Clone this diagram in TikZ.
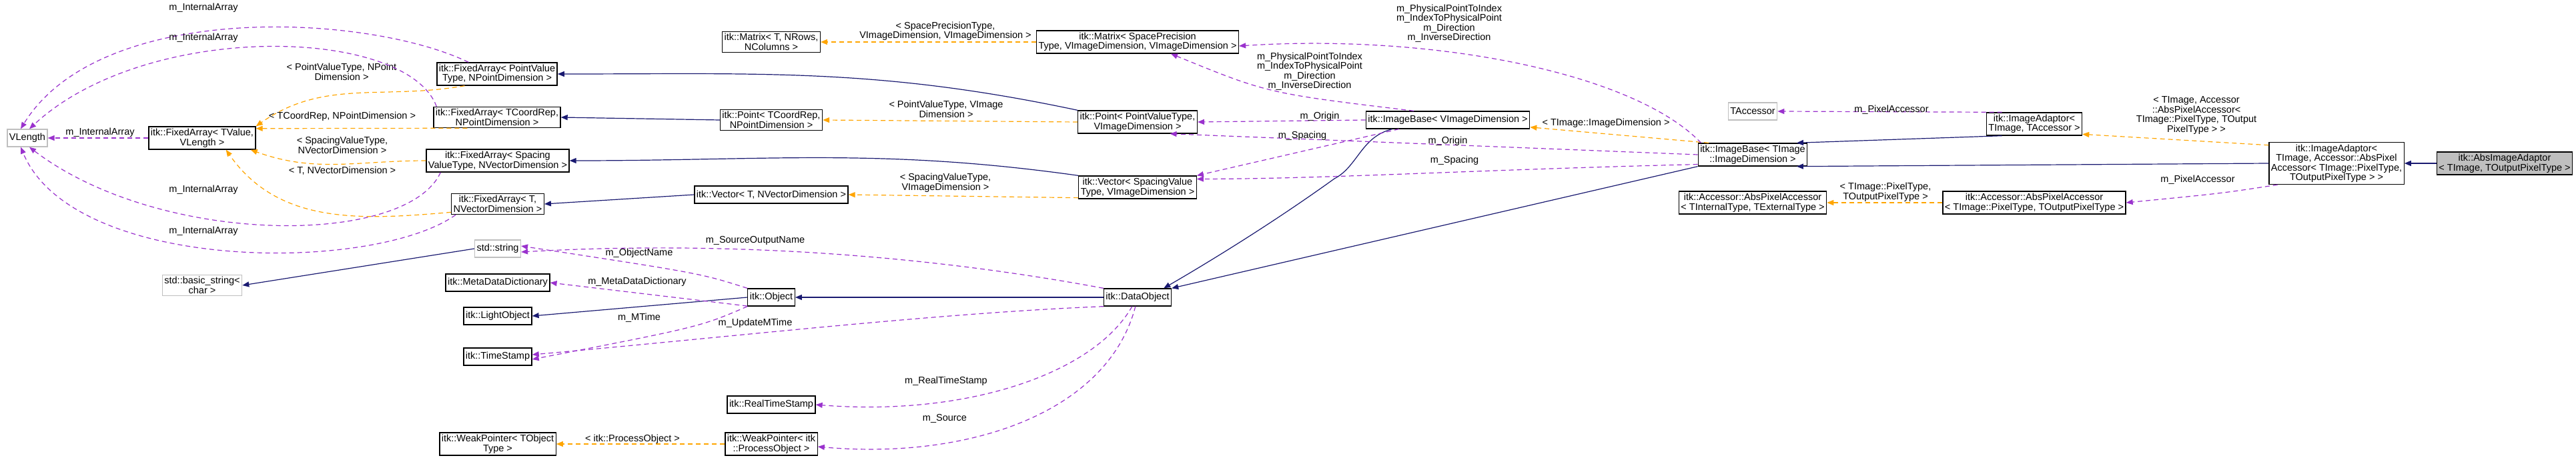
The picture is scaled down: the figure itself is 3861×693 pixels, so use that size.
\documentclass[tikz,border=0pt]{standalone}
\usepackage{fontspec}
\setmainfont{Liberation Sans}
\usetikzlibrary{arrows.meta}
\definecolor{navyc}{HTML}{191970}
\definecolor{purc}{HTML}{9A32CD}
\definecolor{orac}{HTML}{FFA500}
\definecolor{grayc}{HTML}{BFBFBF}
\tikzset{
  cls/.style={draw=black,line width=1.3pt,fill=white,align=center,inner sep=3pt,minimum height=26pt,font=\fontsize{14.5}{14.5}\selectfont},
  ext/.style={cls,draw=grayc},
  lbl/.style={align=center,inner sep=0pt,font=\fontsize{14.5}{14.5}\selectfont},
  tip/.style={-{Triangle[length=10pt,width=8pt]}},
  inh/.style={tip,draw=navyc,line width=1.2pt},
  tpl/.style={tip,draw=orac,line width=1.2pt,dash pattern=on 7pt off 5pt},
  use/.style={tip,draw=purc,line width=1.2pt,dash pattern=on 7pt off 5pt}
}
\begin{document}
\begin{tikzpicture}[x=1pt,y=-1pt]
\useasboundingbox (0,0) rectangle (3861,693);
% classes
\node [ext,name=vlen] at (41,207){VLength};
\node [cls,name=faTV] at (303,207){itk::FixedArray< TValue,\\VLength >};
\node [cls,name=faPV] at (745,111){itk::FixedArray< PointValue\\Type, NPointDimension >};
\node [cls,name=faTC] at (745,176){itk::FixedArray< TCoordRep,\\NPointDimension >};
\node [cls,name=faSV] at (746,241){itk::FixedArray< Spacing\\ValueType, NVectorDimension >};
\node [cls,name=faT] at (746,306){itk::FixedArray< T,\\NVectorDimension >};
\node [ext,name=strS] at (746,373){std::string};
\node [ext,name=bstr] at (303,428){std::basic\_string<\\char >};
\node [cls,name=meta] at (746,424){itk::MetaDataDictionary};
\node [cls,name=light] at (746,474){itk::LightObject};
\node [cls,name=tstamp] at (746,535){itk::TimeStamp};
\node [cls,name=wpT] at (746,666){itk::WeakPointer< TObject\\Type >};
\node [cls,name=matT] at (1156,63){itk::Matrix< T, NRows,\\NColumns >};
\node [cls,name=pointTC] at (1156,180){itk::Point< TCoordRep,\\NPointDimension >};
\node [cls,name=vecT] at (1156,292){itk::Vector< T, NVectorDimension >};
\node [cls,name=obj] at (1156,446){itk::Object};
\node [cls,name=realTS] at (1156,607){itk::RealTimeStamp};
\node [cls,name=wpPO] at (1156,666){itk::WeakPointer< itk\\::ProcessObject >};
\node [cls,name=matSP] at (1705,63){itk::Matrix< SpacePrecision\\Type, VImageDimension, VImageDimension >};
\node [cls,name=pointPV] at (1705,183){itk::Point< PointValueType,\\VImageDimension >};
\node [cls,name=vecSV] at (1705,281){itk::Vector< SpacingValue\\Type, VImageDimension >};
\node [cls,name=dobj] at (1705,446){itk::DataObject};
\node [cls,name=ibV] at (2170,180){itk::ImageBase< VImageDimension >};
\node [cls,name=ibT] at (2627,232){itk::ImageBase< TImage\\::ImageDimension >};
\node [ext,name=tacc] at (2627,167){TAccessor};
\node [cls,name=apa1] at (2627,304){itk::Accessor::AbsPixelAccessor\\< TInternalType, TExternalType >};
\node [cls,name=iaTA] at (3049,186){itk::ImageAdaptor<\\TImage, TAccessor >};
\node [cls,name=apa2] at (3049,304){itk::Accessor::AbsPixelAccessor\\< TImage::PixelType, TOutputPixelType >};
\node [cls,name=iaBig] at (3502,245){itk::ImageAdaptor<\\TImage, Accessor::AbsPixel\\Accessor< TImage::PixelType,\\TOutputPixelType > >};
\node [cls,fill=grayc,name=absIA] at (3754,245){itk::AbsImageAdaptor\\< TImage, TOutputPixelType >};
% inheritance
\draw[inh] (pointPV.north west) to[out=168,in=0] (faPV.east);
\draw[inh] (pointTC.west) -- (faTC.east);
\draw[inh] (vecSV.north west) to[out=172,in=0] (faSV.east);
\draw[inh] (vecT.west) -- (faT.east);
\draw[inh] (strS.west) -- (bstr.east);
\draw[inh] (obj.west) -- (light.east);
\draw[inh] (dobj.west) -- (obj.east);
\draw[inh] ([xshift=40pt]ibV.south west) .. controls (2040,205) and (2035,250) .. (2000,268) .. controls (1900,340) and (1800,400) .. ([xshift=-12pt]dobj.north east);
\draw[inh] (ibT.south west) -- (dobj.north east);
\draw[inh] (iaTA.200) -- (ibT.15);
\draw[inh] (iaBig.west) -- (ibT.-15);
\draw[inh] (absIA.west) -- (iaBig.east);
% template instances
\draw[tpl] (faPV.200) to[out=190,in=35] (faTV.north east)
  node[lbl] at (512,108){< PointValueType, NPoint\\Dimension >};
\draw[tpl] (faTC.200) -- (faTV.10)
  node[lbl] at (513,175){< TCoordRep, NPointDimension >};
\draw[tpl] (faSV.west) to[out=180,in=-20] ([xshift=-8pt]faTV.south east)
  node[lbl] at (513,218){< SpacingValueType,\\NVectorDimension >};
\draw[tpl] (faT.190) to[out=185,in=-55] ([xshift=-45pt]faTV.south east)
  node[lbl] at (513,256){< T, NVectorDimension >};
\draw[tpl] (matSP.west) -- (matT.east)
  node[lbl] at (1417,47){< SpacePrecisionType,\\VImageDimension, VImageDimension >};
\draw[tpl] (pointPV.west) -- (pointTC.east)
  node[lbl] at (1418,164){< PointValueType, VImage\\Dimension >};
\draw[tpl] (vecSV.190) -- (vecT.east)
  node[lbl] at (1417,274){< SpacingValueType,\\VImageDimension >};
\draw[tpl] (ibT.165) -- (ibV.-5)
  node[lbl] at (2407,185){< TImage::ImageDimension >};
\draw[tpl] (apa2.west) -- (apa1.east)
  node[lbl] at (2826,288){< TImage::PixelType,\\TOutputPixelType >};
\draw[tpl] (iaBig.165) -- (iaTA.-12)
  node[lbl] at (3292,173){< TImage, Accessor\\::AbsPixelAccessor<\\TImage::PixelType, TOutput\\PixelType > >};
\draw[tpl] (wpPO.west) -- (wpT.east)
  node[lbl] at (948,659){< itk::ProcessObject >};
% members
\draw[use] (faTV.west) -- (vlen.east)
  node[lbl] at (150,199){m\_InternalArray};
\draw[use] ([xshift=48pt]faPV.north west) .. controls (550,20) and (150,0) .. ([xshift=-10pt]vlen.north)
  node[lbl] at (305,12){m\_InternalArray};
\draw[use] ([xshift=5pt]faTC.north west) .. controls (610,40) and (220,30) .. ([xshift=3pt]vlen.north)
  node[lbl] at (305,57){m\_InternalArray};
\draw[use] ([xshift=22pt]faSV.south west) .. controls (610,370) and (240,370) .. ([xshift=3pt]vlen.south)
  node[lbl] at (305,285){m\_InternalArray};
\draw[use] ([xshift=7pt]faT.south west) .. controls (560,410) and (110,410) .. ([xshift=-10pt]vlen.south)
  node[lbl] at (305,347){m\_InternalArray};
\draw[use] ([xshift=5pt]ibT.north west) .. controls (2450,110) and (2150,50) .. ([yshift=-6pt]matSP.east)
  node[lbl] at (2172,35){m\_PhysicalPointToIndex\\m\_IndexToPhysicalPoint\\m\_Direction\\m\_InverseDirection};
\draw[use] (ibV.165) .. controls (1900,140) .. ([xshift=50pt]matSP.south)
  node[lbl] at (1963,107){m\_PhysicalPointToIndex\\m\_IndexToPhysicalPoint\\m\_Direction\\m\_InverseDirection};
\draw[use] (ibV.west) -- (pointPV.east)
  node[lbl] at (1978,175){m\_Origin};
\draw[use] (ibT.west) -- (pointPV.-20)
  node[lbl] at (2170,212){m\_Origin};
\draw[use] ([xshift=50pt]ibV.south west) -- (vecSV.north east)
  node[lbl] at (1952,204){m\_Spacing};
\draw[use] (ibT.190) .. controls (2200,255) and (2000,268) .. (vecSV.8)
  node[lbl] at (2180,241){m\_Spacing};
\draw[use] (iaTA.160) -- (tacc.east)
  node[lbl] at (2835,165){m\_PixelAccessor};
\draw[use] (iaBig.-160) .. controls (3330,290) .. (apa2.east)
  node[lbl] at (3294,270){m\_PixelAccessor};
\draw[use] (dobj.north west) .. controls (1400,385) and (1100,360) .. ([yshift=-5pt]strS.east)
  node[lbl] at (1132,361){m\_SourceOutputName};
\draw[use] (obj.north west) .. controls (1050,410) .. ([yshift=4pt]strS.east)
  node[lbl] at (958,380){m\_ObjectName};
\draw[use] (obj.200) -- (meta.east)
  node[lbl] at (955,423){m\_MetaDataDictionary};
\draw[use] (obj.south west) .. controls (1050,490) .. ([yshift=-4pt]tstamp.east)
  node[lbl] at (958,477){m\_MTime};
\draw[use] (dobj.-165) .. controls (1400,470) and (1100,505) .. ([yshift=3pt]tstamp.east)
  node[lbl] at (1132,485){m\_UpdateMTime};
\draw[use] ([xshift=43pt]dobj.south west) .. controls (1640,560) and (1450,625) .. (realTS.east)
  node[lbl] at (1418,572){m\_RealTimeStamp};
\draw[use] ([xshift=48pt]dobj.south west) .. controls (1660,620) and (1450,690) .. ([yshift=-4pt]wpPO.east)
  node[lbl] at (1416,628){m\_Source};
\end{tikzpicture}
\end{document}
